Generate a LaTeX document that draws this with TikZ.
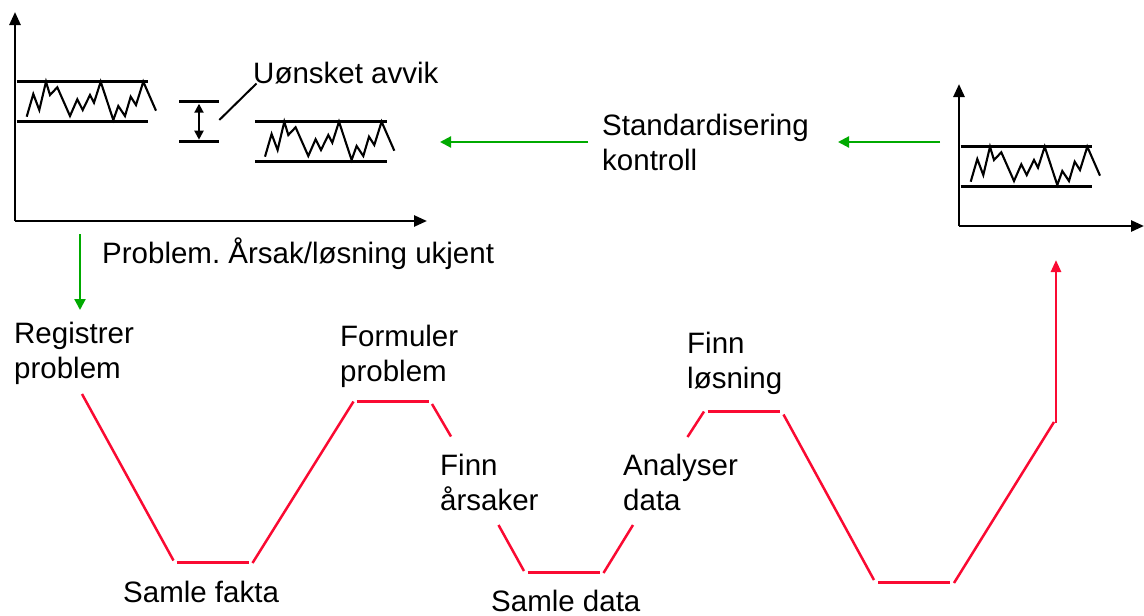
\documentclass[tikz,border=0pt]{standalone}
\usepackage{fontspec}
\setmainfont{Liberation Sans}
\usetikzlibrary{arrows.meta}
\definecolor{pred}{RGB}{250,10,50}
\definecolor{pgreen}{RGB}{0,170,0}
\frenchspacing
\begin{document}
\begin{tikzpicture}[x=1pt,y=-1pt,
  ax/.style={line width=2.6pt,-{Triangle[length=13pt,width=11pt]}},
  bl/.style={line width=2.6pt},
  zig/.style={line width=2.1pt,line join=miter},
  redl/.style={pred,line width=2.5pt},
  grn/.style={pgreen,line width=2.2pt,-{Triangle[length=11pt,width=11pt]}},
  lbl/.style={inner sep=0pt,anchor=base west,align=left,font=\fontsize{29.5}{35}\selectfont},
  band/.pic={
    \draw[bl] (16.7,81.7)--(148.3,81.7);
    \draw[bl] (16.7,121.7)--(148.3,121.7);
    \draw[zig] (26.7,116.7)--(33.3,94)--(39.3,110)--(46,81.7)--(50,95)--(57.3,87.3)--(70,116)--(77.3,99.3)--(82.7,110)--(90,95)--(94,102.7)--(100.7,81.7)--(113.3,120)--(118.3,106)--(125,116)--(130.7,96.7)--(136,105)--(143.3,81.7)--(156,110.7);
  }
]
\useasboundingbox (0,0) rectangle (1144,616);

% left chart
\coordinate (o1) at (15,221);
\coordinate (y1) at (15,12);
\coordinate (x1) at (427,221);
\draw[ax] (o1) -- (y1);
\draw[ax] (o1) -- (x1);
\pic at (0,0) {band};
\pic at (238.3,40) {band};
% deviation marker
\coordinate (dt) at (199,101.7);
\coordinate (db) at (199,141.7);
\draw[bl] (179.3,101.7) -- (219.3,101.7);
\draw[bl] (179.3,141.7) -- (219.3,141.7);
\draw[line width=2pt,{Triangle[length=9pt,width=9pt]}-{Triangle[length=9pt,width=9pt]}] ([yshift=-2pt]dt) -- ([yshift=2pt]db);
\node[lbl] (avvik) at (253,83) {Uønsket avvik};
\coordinate (lead) at (219.3,120);
\draw[line width=2pt] (lead) -- ([xshift=3.5pt,yshift=-0.5pt]avvik.base west);

% right chart
\coordinate (o2) at (959,226);
\coordinate (y2) at (959,84);
\coordinate (x2) at (1144,226);
\draw[ax] (o2) -- (y2);
\draw[ax] (o2) -- (x2);
\pic at (944,65) {band};

% labels (base west of two-line labels is the last line)
\node[lbl] (std) at (602,170) {Standardisering\\kontroll};
\node[lbl] (prob) at (102,263) {Problem. Årsak/løsning ukjent};
\node[lbl] (reg) at (14,378) {Registrer\\problem};
\node[lbl] (form) at (340,381) {Formuler\\problem};
\node[lbl] (finnl) at (687,388) {Finn\\løsning};
\node[lbl] (finna) at (440,510) {Finn\\årsaker};
\node[lbl] (anal) at (623,510) {Analyser\\data};
\node[lbl] (fakta) at (123,602) {Samle fakta};
\node[lbl] (sdata) at (491,611) {Samle data};

% green arrows
\coordinate (g1s) at (80,234);
\coordinate (g1e) at (80,310);
\draw[grn] (g1s) -- (g1e);
\coordinate (g2s) at (588,142);
\coordinate (g2e) at (440,142);
\draw[grn] (g2s) -- (g2e);
\coordinate (g3s) at (940,142);
\coordinate (g3e) at (838,142);
\draw[grn] (g3s) -- (g3e);

% red process path
\draw[redl] (82,394) -- (173.5,560.5);
\draw[redl] (176.5,562.5) -- (248.5,562.5);
\draw[redl] (252.5,563) -- (353.5,401.5);
\draw[redl] (356.5,401.5) -- (429,401.5);
\draw[redl] (432,404) -- (451,436.5);
\draw[redl] (498.5,525) -- (524,571);
\draw[redl] (527.5,572.5) -- (599.5,572.5);
\draw[redl] (603.5,573) -- (633,525);
\draw[redl] (687.5,437) -- (704,411.5);
\draw[redl] (707.5,411.5) -- (780,411.5);
\draw[redl] (783.5,414.5) -- (874,580);
\draw[redl] (878,582.5) -- (950,582.5);
\draw[redl] (954,583) -- (1054,422);
\coordinate (rs) at (1056,423);
\coordinate (re) at (1056,260);
\draw[redl,-{Triangle[length=12pt,width=10pt]}] (rs) -- (re);
\end{tikzpicture}
\end{document}
